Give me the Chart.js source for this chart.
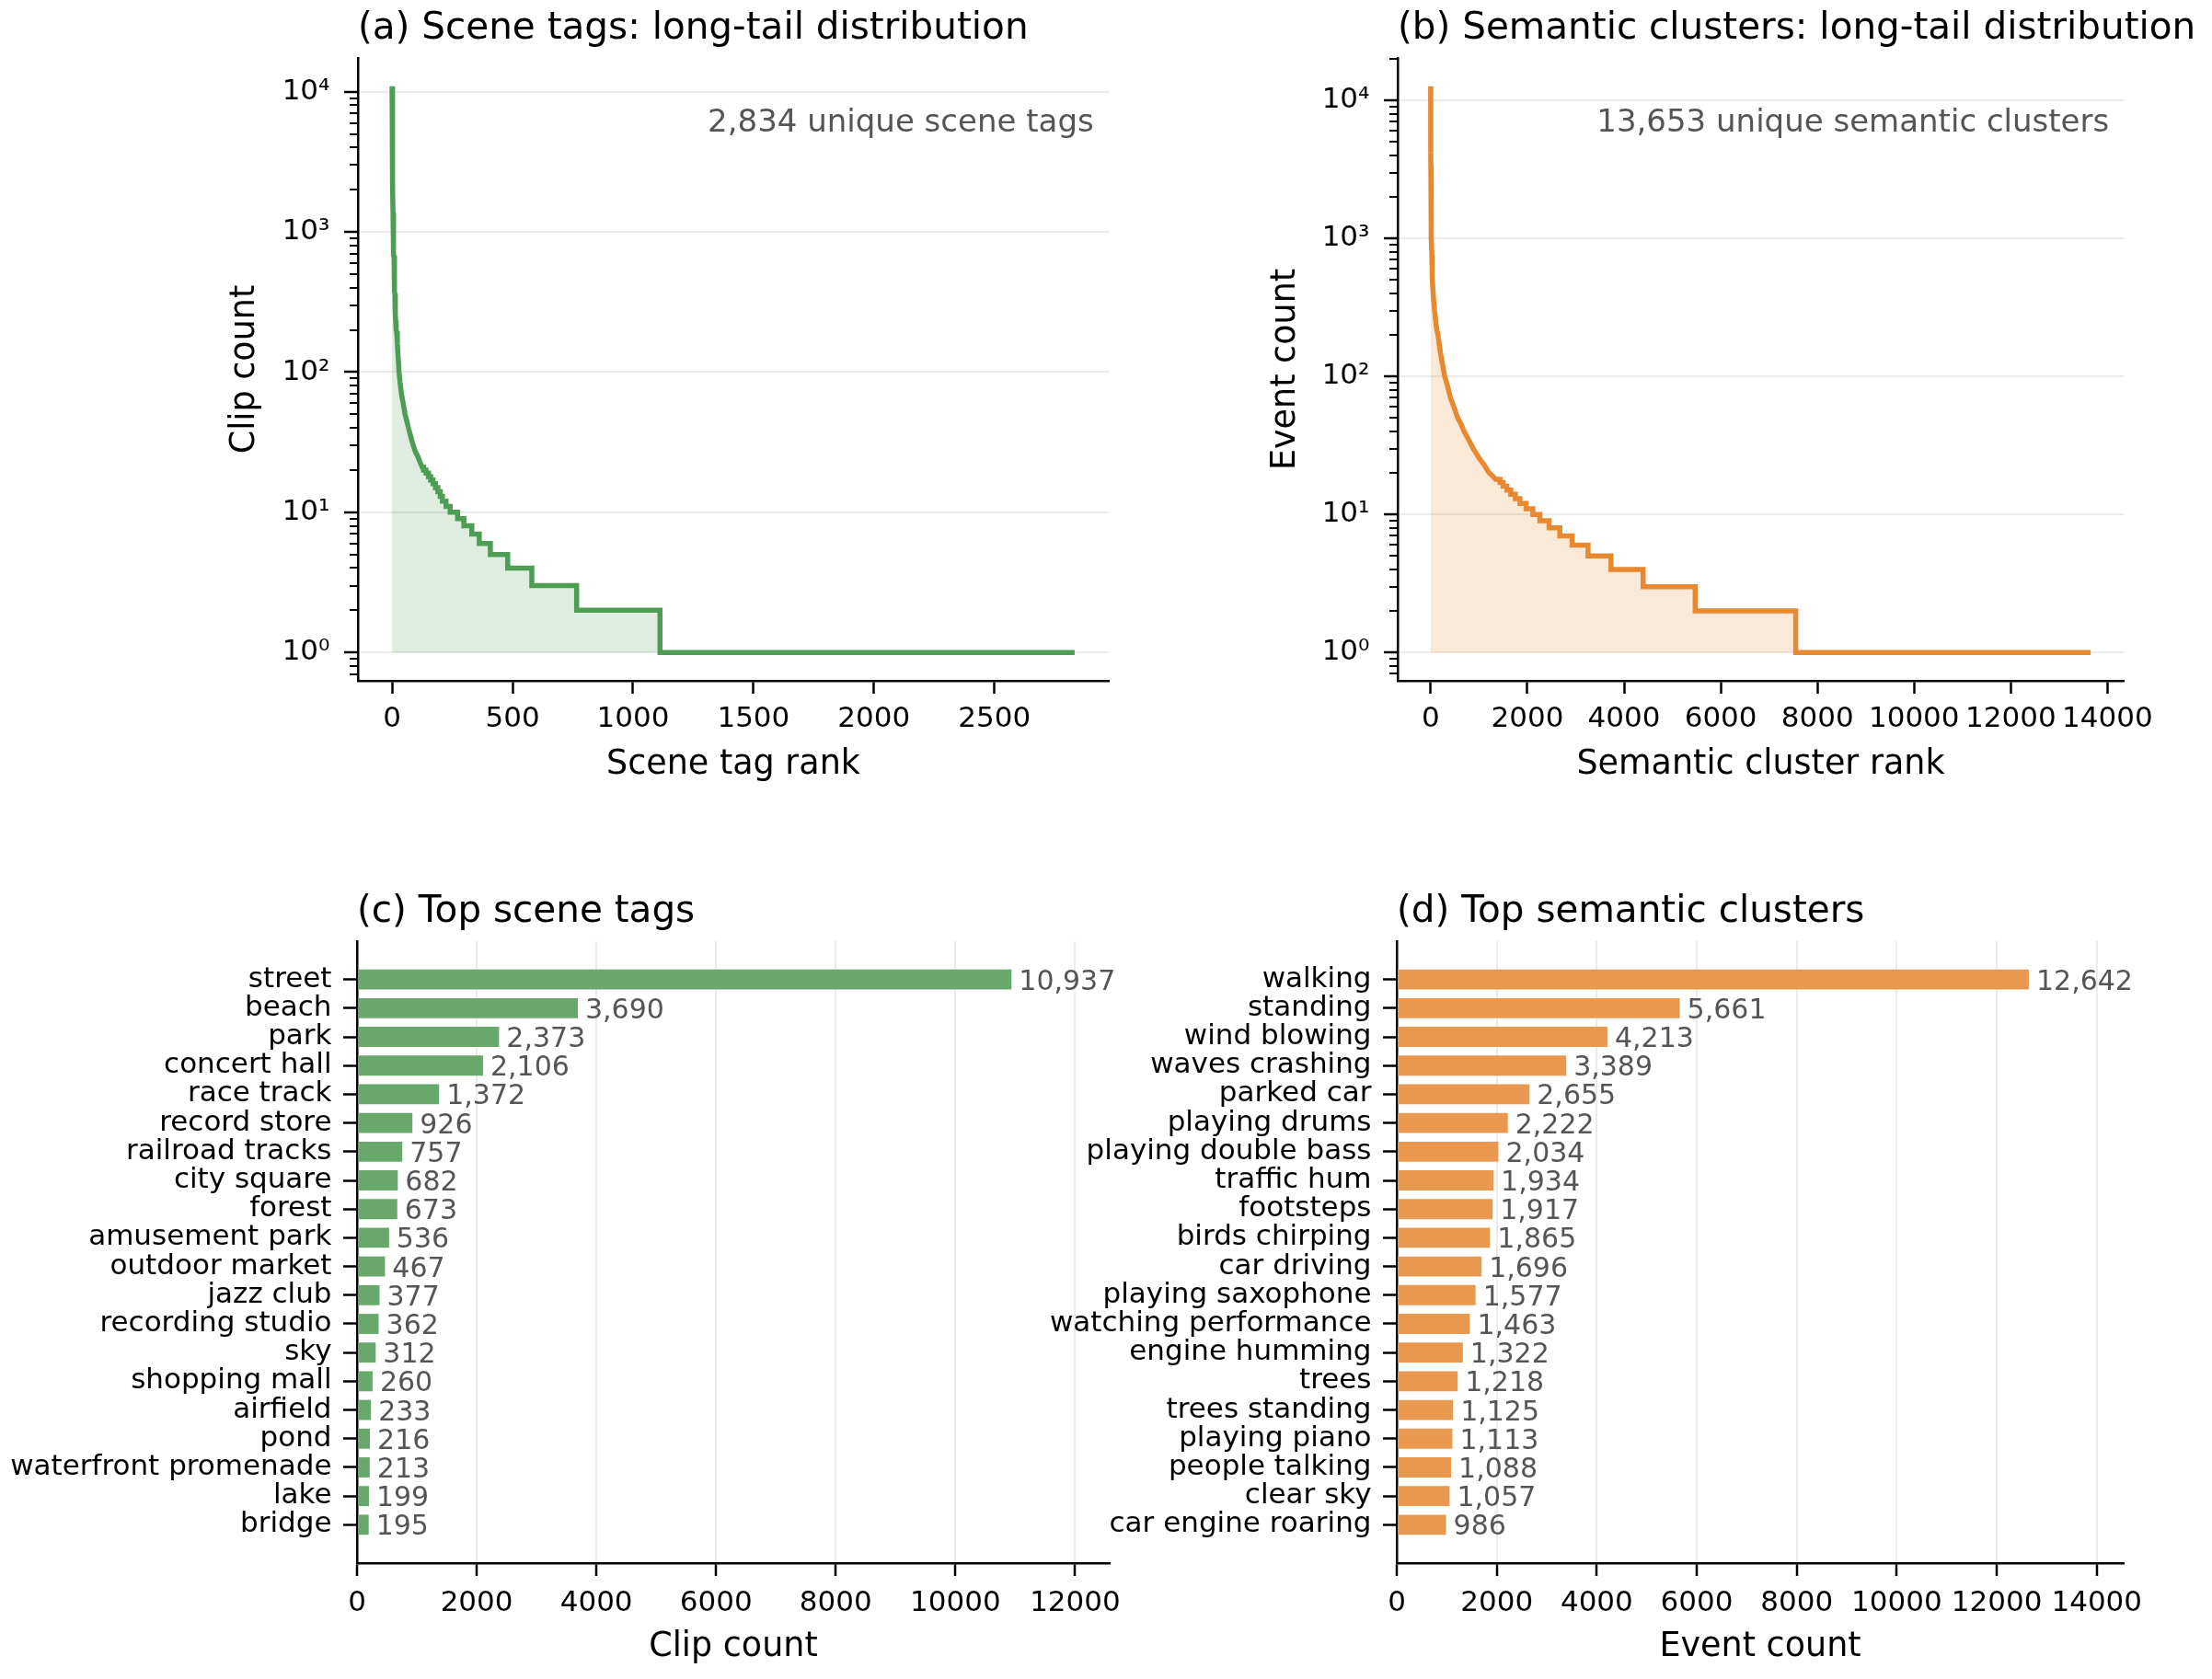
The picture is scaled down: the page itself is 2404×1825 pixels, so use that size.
<!DOCTYPE html>
<html>
<head>
<meta charset="utf-8">
<script src="https://cdn.jsdelivr.net/npm/chart.js@4.4.1/dist/chart.umd.min.js"></script>
<style>
  html, body { margin: 0; padding: 0; background: #fff; overflow: hidden; }
  canvas { position: absolute; }
</style>
</head>
<body>
<canvas id="rankScene" width="1240" height="860" style="left:0;top:0"></canvas>
<canvas id="rankCluster" width="1164" height="860" style="left:1240px;top:0"></canvas>
<canvas id="topScene" width="1240" height="865" style="left:0;top:960px"></canvas>
<canvas id="topCluster" width="1304" height="865" style="left:1100px;top:960px"></canvas>
<script>
// top 20 of each ranking (also ranks 0-19 of the long-tail curves)
const sceneTags = ['street', 'beach', 'park', 'concert hall', 'race track', 'record store',
  'railroad tracks', 'city square', 'forest', 'amusement park', 'outdoor market', 'jazz club',
  'recording studio', 'sky', 'shopping mall', 'airfield', 'pond', 'waterfront promenade', 'lake', 'bridge'];
const sceneTagCounts = [10937, 3690, 2373, 2106, 1372, 926, 757, 682, 673, 536, 467, 377, 362, 312, 260, 233, 216, 213, 199, 195];

const clusterNames = ['walking', 'standing', 'wind blowing', 'waves crashing', 'parked car', 'playing drums',
  'playing double bass', 'traffic hum', 'footsteps', 'birds chirping', 'car driving', 'playing saxophone',
  'watching performance', 'engine humming', 'trees', 'trees standing', 'playing piano', 'people talking',
  'clear sky', 'car engine roaring'];
const clusterCounts = [12642, 5661, 4213, 3389, 2655, 2222, 2034, 1934, 1917, 1865, 1696, 1577, 1463, 1322, 1218, 1125, 1113, 1088, 1057, 986];

// rest of the smooth part of each curve (rank, count)
const sceneCurveRanks = [22, 25, 29, 33, 39, 46, 54, 61, 68, 77, 88, 97, 107, 115];
const sceneCurveCounts = [160, 130, 100, 85, 70, 60, 50, 45, 40, 35, 30, 27, 25, 23];
const clusterCurveRanks = [25, 30, 35, 45, 60, 80, 100, 125, 150, 200, 240, 290, 350, 410, 480, 560, 630, 690, 780, 880, 1020, 1100, 1210, 1280];
const clusterCurveCounts = [750, 620, 520, 430, 360, 300, 260, 220, 200, 150, 125, 100, 85, 70, 60, 50, 45, 40, 35, 30, 25, 23, 20, 19];

// flat runs in the tail: count, and the first rank holding it
const sceneStepCounts = [21, 20, 19, 18, 17, 16, 15, 14, 13, 12, 11, 10, 9, 8, 7, 6, 5, 4, 3, 2, 1];
const sceneStepRanks = [125, 131, 141, 151, 160, 170, 180, 190, 200, 209, 224, 241, 272, 298, 331, 362, 408, 480, 580, 766, 1112];
const clusterStepCounts = [18, 17, 16, 15, 14, 13, 12, 11, 10, 9, 8, 7, 6, 5, 4, 3, 2, 1];
const clusterStepRanks = [1340, 1435, 1500, 1575, 1657, 1752, 1847, 1974, 2114, 2259, 2449, 2671, 2925, 3255, 3730, 4395, 5472, 7551];

const sceneUnique = 2834;
const clusterUnique = 13653;

// tick values
const sceneRankTicks = [0, 500, 1000, 1500, 2000, 2500];
const clusterRankTicks = [0, 2000, 4000, 6000, 8000, 10000, 12000, 14000];
const sceneCountTicks = [0, 2000, 4000, 6000, 8000, 10000, 12000];
const clusterCountTicks = [0, 2000, 4000, 6000, 8000, 10000, 12000, 14000];
const supDigits = ['⁰', '¹', '²', '³', '⁴', '⁵'];

const GREEN = '#4e9d55', GREEN_FILL = 'rgba(78,157,85,0.18)', GREEN_BAR = '#68a86c';
const ORANGE = '#e8882f', ORANGE_FILL = 'rgba(232,136,47,0.19)', ORANGE_BAR = '#e8994f';
const GRID = '#ebebeb';

Chart.defaults.font.family = "'DejaVu Sans'";
Chart.defaults.color = '#000';
Chart.defaults.animation = false;

// panel title and the grey note in the corner
const panelText = {
  id: 'panelText',
  afterDraw(chart, args, opts) {
    const {ctx, chartArea} = chart;
    ctx.save();
    ctx.textBaseline = 'alphabetic';
    ctx.fillStyle = '#000';
    ctx.font = "40.5px 'DejaVu Sans'";
    ctx.textAlign = 'left';
    ctx.fillText(opts.title, chartArea.left, chartArea.top - 21);
    if (opts.note) {
      ctx.fillStyle = '#555';
      ctx.font = "34px 'DejaVu Sans'";
      ctx.textAlign = 'right';
      ctx.fillText(opts.note, chartArea.right - 0.02 * (chartArea.right - chartArea.left), chartArea.top + 80);
    }
    ctx.restore();
  }
};

// numbers at the end of the bars
const barValues = {
  id: 'barValues',
  afterDatasetsDraw(chart) {
    const {ctx} = chart;
    const points = chart.data.datasets[0].data;
    ctx.save();
    ctx.font = "30px 'DejaVu Sans'";
    ctx.fillStyle = '#555';
    ctx.textAlign = 'left';
    ctx.textBaseline = 'alphabetic';
    chart.getDatasetMeta(0).data.forEach((bar, i) => {
      ctx.fillText(points[i].x.toLocaleString('en-US'), bar.x + 8, bar.y + 11);
    });
    ctx.restore();
  }
};

function logTicks(scale) {
  const ticks = [];
  for (let e = -1; e <= 5; e++) {
    for (let m = 1; m <= 9; m++) {
      const v = m * Math.pow(10, e);
      if (v >= scale.min && v <= scale.max) ticks.push({value: v, major: m === 1});
    }
  }
  scale.ticks = ticks;
}

const fixedTicks = values => scale => { scale.ticks = values.map(v => ({value: v})); };

function rankChart(id, o) {
  const logTop = Math.log10(Math.max(...o.topCounts));
  const points = o.topCounts.map((c, i) => ({x: i, y: c}))
    .concat(o.curveRanks.map((r, i) => ({x: r, y: o.curveCounts[i]})));
  // each flat run: from its first rank to the start of the next run
  o.stepRanks.forEach((r, i) => {
    const end = i + 1 < o.stepRanks.length ? o.stepRanks[i + 1] : o.lastRank;
    points.push({x: r, y: o.stepCounts[i]}, {x: end, y: o.stepCounts[i]});
  });

  return new Chart(document.getElementById(id), {
    type: 'line',
    data: {datasets: [{
      data: points, borderColor: o.color, backgroundColor: o.fill,
      borderWidth: 5.5, pointRadius: 0, fill: {value: 1}
    }]},
    options: {
      responsive: false,
      layout: {padding: {top: 63, right: o.padRight, bottom: 10, left: 0}},
      plugins: {legend: {display: false}, tooltip: {enabled: false}, panelText: {title: o.title, note: o.note}},
      scales: {
        x: {
          type: 'linear', bounds: 'data',
          min: -0.05 * o.lastRank, max: 1.05 * o.lastRank,
          afterFit: s => { s.height = 110; },
          afterBuildTicks: fixedTicks(o.rankTicks),
          ticks: {autoSkip: false, maxRotation: 0, padding: 9.5, font: {size: 31}, callback: v => String(v)},
          grid: {drawOnChartArea: false, tickLength: 14, tickWidth: 2.5, tickColor: '#000'},
          border: {color: '#000', width: 2.5},
          title: {display: true, text: o.xTitle, font: {size: 36.5, lineHeight: 1}, padding: {top: 0, bottom: 0}}
        },
        y: {
          type: 'logarithmic', bounds: 'data',
          min: Math.pow(10, -0.05 * logTop), max: Math.pow(10, 1.05 * logTop),
          afterFit: s => { s.width = o.axisWidth; },
          afterBuildTicks: logTicks,
          ticks: {autoSkip: false, padding: 15.5, font: {size: 31},
                  callback: (v, i, t) => t[i].major ? '10' + supDigits[Math.round(Math.log10(v))] : ''},
          grid: {
            lineWidth: 2,
            color: c => c.tick && c.tick.major ? GRID : 'rgba(0,0,0,0)',
            tickLength: 15, tickColor: '#000',
            tickWidth: c => c.tick && c.tick.major ? 2.5 : 2,
            tickBorderDash: c => c.tick && c.tick.major ? [] : [0, 6, 10, 100]
          },
          border: {color: '#000', width: 2.5},
          title: {display: true, text: o.yTitle, font: {size: 36.5, lineHeight: 1}, padding: {top: o.yTitlePad, bottom: 0}}
        }
      }
    },
    plugins: [panelText]
  });
}

function barChart(id, o) {
  return new Chart(document.getElementById(id), {
    type: 'bar',
    data: {datasets: [{
      data: o.counts.map((c, i) => ({x: c, y: i})),
      backgroundColor: o.color, borderWidth: 0, barPercentage: 0.7, categoryPercentage: 1
    }]},
    options: {
      indexAxis: 'y',
      responsive: false,
      layout: {padding: {top: 63, right: o.padRight, bottom: 16, left: 0}},
      plugins: {legend: {display: false}, tooltip: {enabled: false}, panelText: {title: o.title}},
      scales: {
        x: {
          type: 'linear', bounds: 'data', min: 0, max: Math.max(...o.counts) * 1.15,
          afterFit: s => { s.height = 110; },
          afterBuildTicks: fixedTicks(o.ticks),
          ticks: {autoSkip: false, maxRotation: 0, padding: 11, font: {size: 31}, callback: v => String(v)},
          grid: {color: GRID, lineWidth: 2, tickLength: 14, tickWidth: 2.5, tickColor: '#000'},
          border: {color: '#000', width: 2.5},
          title: {display: true, text: o.xTitle, font: {size: 36.5, lineHeight: 1}, padding: {top: 0, bottom: 0}}
        },
        y: {
          type: 'linear', bounds: 'data', reverse: true, offset: false,
          min: -1.335, max: o.counts.length - 1 + 1.335,
          afterFit: s => { s.width = o.axisWidth; },
          afterBuildTicks: fixedTicks(o.labels.map((_, i) => i)),
          ticks: {autoSkip: false, padding: 12.5, font: {size: 31}, callback: v => o.labels[v]},
          grid: {offset: false, drawOnChartArea: false, tickLength: 15, tickWidth: 2.5, tickColor: '#000'},
          border: {color: '#000', width: 2.5}
        }
      }
    },
    plugins: [panelText, barValues]
  });
}

rankChart('rankScene', {
  title: '(a) Scene tags: long-tail distribution',
  note: sceneUnique.toLocaleString('en-US') + ' unique scene tags',
  topCounts: sceneTagCounts, curveRanks: sceneCurveRanks, curveCounts: sceneCurveCounts,
  stepRanks: sceneStepRanks, stepCounts: sceneStepCounts, lastRank: sceneUnique - 1,
  rankTicks: sceneRankTicks, color: GREEN, fill: GREEN_FILL,
  xTitle: 'Scene tag rank', yTitle: 'Clip count', yTitlePad: 248, axisWidth: 389, padRight: 35
});

rankChart('rankCluster', {
  title: '(b) Semantic clusters: long-tail distribution',
  note: clusterUnique.toLocaleString('en-US') + ' unique semantic clusters',
  topCounts: clusterCounts, curveRanks: clusterCurveRanks, curveCounts: clusterCurveCounts,
  stepRanks: clusterStepRanks, stepCounts: clusterStepCounts, lastRank: clusterUnique - 1,
  rankTicks: clusterRankTicks, color: ORANGE, fill: ORANGE_FILL,
  xTitle: 'Semantic cluster rank', yTitle: 'Event count', yTitlePad: 139, axisWidth: 279, padRight: 96
});

barChart('topScene', {
  title: '(c) Top scene tags', labels: sceneTags, counts: sceneTagCounts, ticks: sceneCountTicks,
  color: GREEN_BAR, xTitle: 'Clip count', axisWidth: 388, padRight: 34
});

barChart('topCluster', {
  title: '(d) Top semantic clusters', labels: clusterNames, counts: clusterCounts, ticks: clusterCountTicks,
  color: ORANGE_BAR, xTitle: 'Event count', axisWidth: 418, padRight: 96
});
</script>
</body>
</html>
